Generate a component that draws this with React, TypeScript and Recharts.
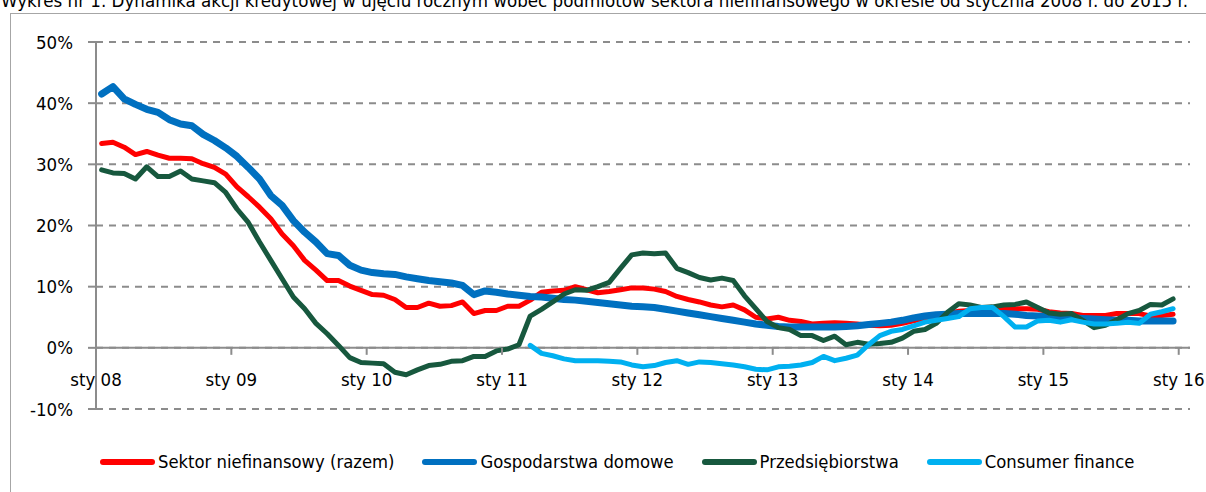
import React from "react";
import { LineChart, Line, XAxis, YAxis, CartesianGrid, ReferenceLine } from "recharts";

const TITLE =
  "Wykres nr 1. Dynamika akcji kredytowej w ujęciu rocznym wobec podmiotów sektora niefinansowego w okresie od stycznia 2008 r. do 2015 r.";

// monthly categories: Jan 2008 .. Dec 2015 (96 months), one empty slot for Jan 2016
const xTickValues = [0, 12, 24, 36, 48, 60, 72, 84, 96];
const xTickLabels = ["sty 08", "sty 09", "sty 10", "sty 11", "sty 12", "sty 13", "sty 14", "sty 15", "sty 16"];
const yTickValues = [-10, 0, 10, 20, 30, 40, 50];

const seriesNames = ["Sektor niefinansowy (razem)", "Gospodarstwa domowe", "Przedsiębiorstwa", "Consumer finance"];
const seriesColors = ["#ff0000", "#0070c0", "#17583e", "#00b0f0"];

const sektor = [
  33.4, 33.6, 32.8, 31.6, 32.1, 31.5, 31.0, 31.0, 30.9, 30.1, 29.5, 28.4,
  26.3, 24.7, 23.0, 21.1, 18.6, 16.7, 14.3, 12.7, 11.0, 11.0, 10.1, 9.4,
  8.7, 8.6, 7.9, 6.6, 6.6, 7.3, 6.8, 6.9, 7.5, 5.6, 6.1, 6.1,
  6.8, 6.8, 7.8, 9.1, 9.3, 9.4, 10.0, 9.5, 9.0, 9.2, 9.5, 9.8,
  9.8, 9.6, 9.2, 8.4, 7.9, 7.5, 7.0, 6.7, 7.0, 6.2, 5.0, 4.7,
  5.0, 4.5, 4.3, 3.9, 4.0, 4.1, 4.0, 3.9, 3.7, 3.6, 3.7, 4.0,
  4.4, 4.8, 5.2, 5.6, 6.0, 6.1, 6.3, 6.1, 6.3, 6.4, 6.4, 6.3,
  5.9, 5.7, 5.6, 5.3, 5.3, 5.3, 5.6, 5.6, 5.6, 5.2, 5.3, 5.5,
];

const gospodarstwa = [
  41.5, 42.7, 40.7, 39.8, 39.0, 38.5, 37.3, 36.6, 36.3, 34.9, 33.9, 32.7,
  31.3, 29.5, 27.6, 24.9, 23.3, 20.8, 18.9, 17.3, 15.4, 15.1, 13.5, 12.7,
  12.3, 12.1, 12.0, 11.6, 11.3, 11.0, 10.8, 10.6, 10.2, 8.7, 9.3, 9.1,
  8.8, 8.6, 8.4, 8.3, 8.1, 7.9, 7.8, 7.6, 7.4, 7.2, 7.0, 6.8,
  6.7, 6.6, 6.3, 6.0, 5.7, 5.4, 5.1, 4.8, 4.5, 4.2, 3.9, 3.7,
  3.5, 3.4, 3.4, 3.4, 3.4, 3.4, 3.5, 3.6, 3.8, 4.0, 4.2, 4.5,
  4.9, 5.2, 5.4, 5.5, 5.6, 5.6, 5.6, 5.6, 5.6, 5.5, 5.3, 5.2,
  5.1, 4.9, 4.9, 4.8, 4.7, 4.6, 4.5, 4.5, 4.4, 4.4, 4.4, 4.4,
];

const przedsiebiorstwa = [
  29.1, 28.6, 28.5, 27.6, 29.6, 28.0, 28.0, 28.9, 27.6, 27.3, 27.0, 25.4,
  22.7, 20.5, 17.3, 14.3, 11.3, 8.3, 6.4, 4.0, 2.3, 0.4, -1.6, -2.4,
  -2.5, -2.6, -4.0, -4.4, -3.6, -2.9, -2.7, -2.2, -2.1, -1.4, -1.4, -0.5,
  -0.2, 0.5, 5.2, 6.3, 7.5, 8.8, 9.5, 9.4, 10.0, 10.7, 13.0, 15.2,
  15.5, 15.4, 15.5, 13.0, 12.3, 11.5, 11.1, 11.4, 11.0, 8.5, 6.4, 4.3,
  3.3, 3.0, 2.0, 2.0, 1.2, 1.9, 0.5, 0.9, 0.6, 0.7, 0.9, 1.6,
  2.7, 3.0, 4.0, 5.8, 7.2, 7.0, 6.6, 6.7, 7.0, 7.1, 7.5, 6.6,
  5.7, 5.5, 5.6, 4.5, 3.3, 3.7, 4.6, 5.6, 6.1, 7.1, 7.0, 8.0,
];

// Consumer finance starts in March 2011 (month index 38)
const CONSUMER_START = 38;
const consumer = [
  0.4, -0.9, -1.3, -1.8, -2.1, -2.1, -2.1, -2.2, -2.3, -2.8,
  -3.1, -2.9, -2.4, -2.1, -2.7, -2.3, -2.4, -2.6, -2.8, -3.1, -3.5, -3.6,
  -3.1, -3.0, -2.8, -2.4, -1.4, -2.1, -1.7, -1.2, 0.5, 2.0, 2.7, 3.0,
  3.6, 4.2, 4.5, 4.8, 5.1, 6.4, 6.6, 6.6, 5.1, 3.4, 3.4, 4.4,
  4.5, 4.2, 4.6, 4.2, 3.9, 3.9, 4.0, 4.2, 4.0, 5.5, 5.9, 6.4,
];

const data = sektor.map((v, i) => ({
  x: i + 0.5,
  sektor: v,
  gosp: gospodarstwa[i],
  przed: przedsiebiorstwa[i],
  cons: i >= CONSUMER_START ? consumer[i - CONSUMER_START] : null,
}));

const W = 1206;
const H = 492;
const M = { top: 42, right: 16, bottom: 53, left: 0 };
const XAXIS_H = 30;
const Y_MIN = -10;
const Y_MAX = 50;
const PLOT_H = H - M.top - M.bottom - XAXIS_H;
const ZERO_Y = M.top + (PLOT_H * (Y_MAX - 0)) / (Y_MAX - Y_MIN);

const FONT = "'DejaVu Sans Condensed', 'Liberation Sans Narrow', sans-serif";
const AXIS = "#8c8c8c";
const TXT = "#000";

function XTick(props: any) {
  const { x, payload } = props;
  const idx = xTickValues.indexOf(payload.value);
  return (
    <g>
      <line x1={x} x2={x} y1={ZERO_Y} y2={ZERO_Y + 7} stroke={AXIS} strokeWidth={2} />
      <text
        x={x}
        y={ZERO_Y + 38}
        textAnchor="middle"
        fontFamily={FONT}
        fontSize={18.5}
        fill={TXT}
        style={{ fontStretch: "condensed" }}
      >
        {xTickLabels[idx]}
      </text>
    </g>
  );
}

const keys = ["sektor", "gosp", "przed", "cons"];
const widths = [5, 7, 5, 5];

export default function App() {
  return (
    <div
      style={{
        position: "fixed",
        left: 0,
        top: 0,
        width: W,
        height: H,
        overflow: "hidden",
        background: "#fff",
      }}
    >
      <svg width={W} height={20} style={{ position: "absolute", left: 0, top: 0 }}>
        <text
          x={1}
          y={7}
          textLength={1187}
          lengthAdjust="spacingAndGlyphs"
          fontFamily={FONT}
          fontSize={18}
          fill={TXT}
        >
          {TITLE}
        </text>
      </svg>
      <div
        style={{
          position: "absolute",
          left: 10,
          top: 13,
          width: 1220,
          height: 520,
          border: "1px solid #a6a6a6",
          boxSizing: "border-box",
        }}
      />
      <div style={{ position: "absolute", left: 0, top: 0 }}>
        <LineChart width={W} height={H} data={data} margin={M}>
          <CartesianGrid vertical={false} stroke={AXIS} strokeWidth={2} strokeDasharray="7 6" />
          <XAxis
            dataKey="x"
            type="number"
            domain={[0, 97]}
            ticks={xTickValues}
            interval={0}
            axisLine={false}
            tickLine={false}
            height={XAXIS_H}
            tick={<XTick />}
          />
          <YAxis
            type="number"
            domain={[Y_MIN, Y_MAX]}
            ticks={yTickValues}
            width={96}
            axisLine={{ stroke: AXIS, strokeWidth: 2 }}
            tickLine={{ stroke: AXIS, strokeWidth: 2 }}
            tickSize={8}
            tickMargin={15}
            tickFormatter={(v: number) => `${v}%`}
            tick={{ fontFamily: FONT, fontSize: 18.5, fill: TXT }}
          />
          <ReferenceLine y={0} stroke={AXIS} strokeWidth={2} />
          {keys.map((k, i) => (
            <Line
              key={k}
              type="linear"
              dataKey={k}
              stroke={seriesColors[i]}
              strokeWidth={widths[i]}
              dot={false}
              activeDot={false}
              isAnimationActive={false}
              strokeLinecap="round"
              strokeLinejoin="round"
              connectNulls={false}
            />
          ))}
        </LineChart>
      </div>
      <div
        style={{
          position: "absolute",
          left: 100,
          top: 451,
          display: "flex",
          alignItems: "center",
          fontFamily: FONT,
          fontStretch: "condensed",
          fontSize: 18.3,
          color: TXT,
          whiteSpace: "nowrap",
        }}
      >
        {seriesNames.map((n, i) => (
          <div key={n} style={{ display: "flex", alignItems: "center", marginRight: 28 }}>
            <div
              style={{
                width: 55,
                height: 6,
                borderRadius: 3,
                background: seriesColors[i],
                marginRight: 3,
              }}
            />
            <span>{n}</span>
          </div>
        ))}
      </div>
    </div>
  );
}
